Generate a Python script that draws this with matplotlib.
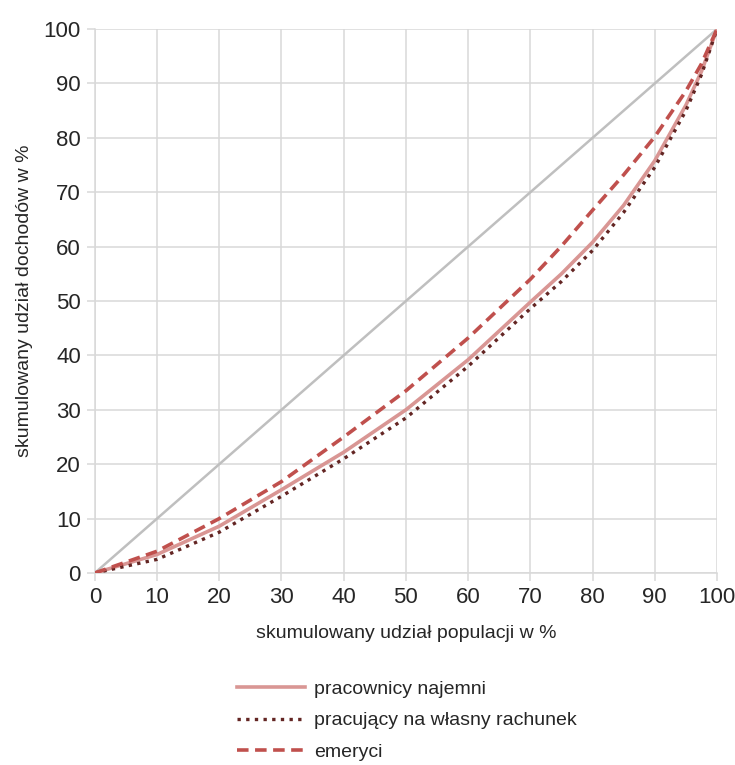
import matplotlib
matplotlib.use("Agg")
import matplotlib.pyplot as plt
from matplotlib import font_manager

# cumulative population share (%)
population = [0, 10, 20, 30, 40, 50, 60, 70, 75, 80, 85, 90, 95, 97.5, 100]

# cumulative income share (%)
najemni = [0, 3.4, 8.6, 15.3, 22.2, 30.0, 39.2, 49.8, 55.0, 60.8, 67.6, 75.8, 86.0, 92.2, 100]
wlasny_rachunek = [0, 2.5, 7.5, 14.1, 21.0, 28.5, 38.0, 48.6, 53.6, 59.3, 66.3, 74.6, 85.0, 91.6, 100]
emeryci = [0, 4.0, 10.0, 16.8, 25.0, 33.5, 43.2, 54.0, 60.1, 66.7, 73.2, 80.2, 88.6, 93.6, 100]

equality = [0, 100]

series_labels = ["pracownicy najemni", "pracujący na własny rachunek", "emeryci"]
ticks = list(range(0, 101, 10))

installed = {f.name for f in font_manager.fontManager.ttflist}
family = "Liberation Sans Narrow" if "Liberation Sans Narrow" in installed else "Liberation Sans"
plt.rcParams["font.family"] = [family, "DejaVu Sans"]

text_color = "#262626"
grid_color = "#d9d9d9"

fig = plt.figure(figsize=(7.35, 7.65), dpi=100)
ax = fig.add_axes([0.129, 0.251, 0.8465, 0.711])

ax.plot(equality, equality, color="#bfbfbf", linewidth=1.8, zorder=2)
ax.plot(population, najemni, color="#d99694", linewidth=2.6, label=series_labels[0], zorder=3)
ax.plot(population, wlasny_rachunek, color="#632523", linewidth=2.4,
        linestyle=(0, (1, 1.6)), label=series_labels[1], zorder=4)
ax.plot(population, emeryci, color="#c0504d", linewidth=2.6,
        linestyle=(0, (3.2, 1.8)), label=series_labels[2], zorder=4)

ax.set_xlim(0, 100)
ax.set_ylim(0, 100)
ax.set_xticks(ticks)
ax.set_yticks(ticks)
ax.grid(True, color=grid_color, linewidth=1.1, zorder=0)
ax.tick_params(axis="both", length=6, width=1.1, color=grid_color,
               labelsize=16, labelcolor=text_color, pad=4)
for side in ["top", "right"]:
    ax.spines[side].set_visible(False)
for side in ["left", "bottom"]:
    ax.spines[side].set_color(grid_color)
    ax.spines[side].set_linewidth(1.1)

ax.set_xlabel("skumulowany udział populacji w %", fontsize=14, color=text_color, labelpad=12)
ax.set_ylabel("skumulowany udział dochodów w %", fontsize=14, color=text_color, labelpad=8)

fig.legend(loc="upper left", bbox_to_anchor=(0.312, 0.121),
           frameon=False, fontsize=14, handlelength=3.5, handletextpad=0.45,
           labelspacing=0.72, labelcolor=text_color, borderaxespad=0)

fig.savefig("out.png", dpi=100)
